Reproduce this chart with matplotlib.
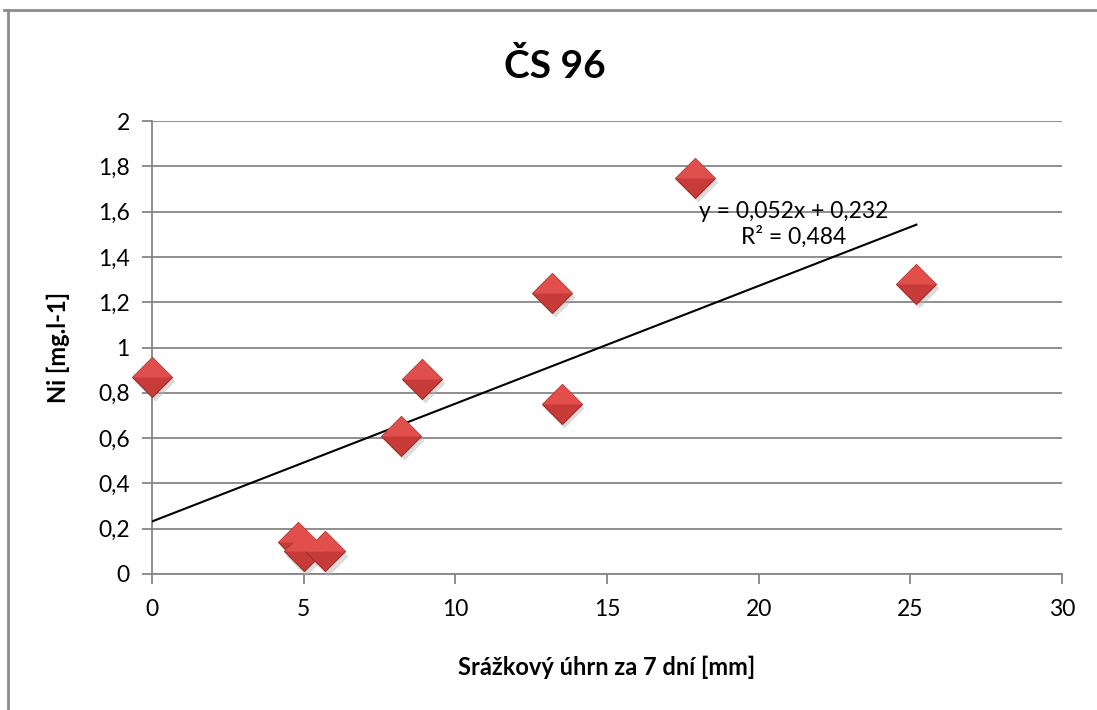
import matplotlib.pyplot as plt
import numpy as np
from matplotlib.path import Path
from matplotlib.lines import Line2D
import matplotlib.transforms as mtransforms

plt.rcParams['font.family'] = ['Lato', 'DejaVu Sans']

# data
srazky = [0.0, 4.8, 5.0, 5.7, 8.2, 8.9, 13.2, 13.5, 17.9, 25.2]
ni = [0.87, 0.14, 0.10, 0.10, 0.61, 0.86, 1.24, 0.75, 1.75, 1.28]
slope = 0.052
intercept = 0.232
rovnice = 'y = 0,052x + 0,232\nR² = 0,484'
xticks = [0, 5, 10, 15, 20, 25, 30]
yticks = [0, 0.2, 0.4, 0.6, 0.8, 1.0, 1.2, 1.4, 1.6, 1.8, 2.0]

fig = plt.figure(figsize=(10.97, 7.10), dpi=100)
ax = fig.add_axes([152/1097, 1-574/710, 910/1097, 453/710])

# chart frame (cut off at right and bottom)
fig.add_artist(Line2D([4/1097, 1], [1-10/710, 1-10/710], transform=fig.transFigure, color='#8c8c8c', lw=2))
fig.add_artist(Line2D([8/1097, 8/1097], [0, 1-10/710], transform=fig.transFigure, color='#8c8c8c', lw=2))

ax.set_xlim(0, 30)
ax.set_ylim(0, 2)
ax.set_xticks(xticks)
ax.set_yticks(yticks)
ax.set_xticklabels([str(v) for v in xticks])
ax.set_yticklabels([('%g' % v).replace('.', ',') for v in yticks])
ax.tick_params(axis='both', labelsize=16.5, color='#868686', length=7, width=1.3, direction='out')
ax.tick_params(axis='x', pad=11)
ax.tick_params(axis='y', pad=9)
ax.grid(axis='y', color='#868686', lw=1.3)
ax.set_axisbelow(True)
for s in ['top', 'right']:
    ax.spines[s].set_visible(False)
for s in ['left', 'bottom']:
    ax.spines[s].set_color('#868686')
    ax.spines[s].set_linewidth(1.3)

# trendline
xl = np.array([0, max(srazky)])
ax.plot(xl, slope * xl + intercept, color='black', lw=1.5, zorder=3)

# diamond markers with shadow and shaded top half
ms = 20.5
shadow = mtransforms.offset_copy(ax.transData, fig=fig, x=2, y=-3, units='points')
ax.plot(srazky, ni, 'D', ms=ms, color='#b0b0b0', alpha=0.45, mec='none',
        transform=shadow, zorder=4, clip_on=False)
ax.plot(srazky, ni, 'D', ms=ms, color='#c73b38', mec='#9e2b29', mew=0.8, zorder=5, clip_on=False)
top_half = Path([(-1, 0), (0, 1), (1, 0), (-1, 0)], [Path.MOVETO, Path.LINETO, Path.LINETO, Path.CLOSEPOLY])
ax.plot(srazky, ni, marker=top_half, ls='none', ms=ms*1.41, color='#e04f4c', mec='none',
        zorder=6, clip_on=False)

ax.text(21.15, 1.545, rovnice, fontsize=16.5, ha='center', va='center', linespacing=1.2, zorder=7)

fig.text(555/1097, 1-66/710, 'ČS 96', fontsize=28, fontweight='bold', ha='center', va='center')
ax.set_xlabel('Srážkový úhrn za 7 dní [mm]', fontsize=17, fontweight='bold', labelpad=26)
ax.set_ylabel('Ni [mg.l-1]', fontsize=17, fontweight='bold', labelpad=20)

fig.savefig('out.png', dpi=100)
